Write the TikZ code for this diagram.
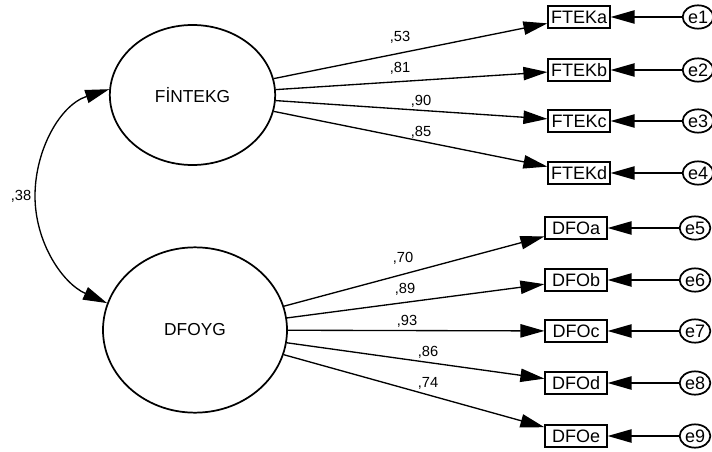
\documentclass[tikz,border=0pt]{standalone}
\usepackage{fontspec}
\setmainfont{Liberation Sans}
\usetikzlibrary{shapes.geometric,arrows.meta}

\begin{document}
\begin{tikzpicture}[x=0.75pt,y=0.75pt,yscale=-1,xscale=1,
  latent/.style={ellipse,draw,line width=1.3pt,inner sep=0pt,font=\fontsize{13}{15}\selectfont},
  obsbox/.style={rectangle,draw,line width=1.4pt,minimum width=46pt,minimum height=16.5pt,inner sep=1pt,font=\fontsize{13.5}{15}\selectfont},
  errnode/.style={ellipse,draw,line width=1.3pt,minimum width=23pt,minimum height=17.5pt,inner sep=0pt,font=\fontsize{13.5}{15}\selectfont},
  coef/.style={inner sep=0.75pt,font=\fontsize{11}{13}\selectfont},
  loadarrow/.style={line width=1pt,-{Triangle[length=18pt,width=10pt]}},
  corrarrow/.style={line width=1pt,{Triangle[length=18pt,width=10pt]}-{Triangle[length=18pt,width=10pt]}}]
\useasboundingbox (0,0) rectangle (712,452);

%Shape: Ellipse [latent factors]
\node [latent,minimum width=124pt,minimum height=105pt] (fin) at (192.5,95) {FİNTEKG};
\node [latent,minimum width=138pt,minimum height=124pt] (dfo) at (195,330) {DFOYG};

%Shape: Rectangle [observed items]
\node [obsbox] (ftekA) at (579,17) {FTEKa};
\node [obsbox] (ftekB) at (579,70) {FTEKb};
\node [obsbox] (ftekC) at (579,121) {FTEKc};
\node [obsbox] (ftekD) at (579,173) {FTEKd};
\node [obsbox] (dfoA) at (576,228) {DFOa};
\node [obsbox] (dfoB) at (576,280) {DFOb};
\node [obsbox] (dfoC) at (576,331) {DFOc};
\node [obsbox] (dfoD) at (576,383) {DFOd};
\node [obsbox] (dfoE) at (576,436) {DFOe};

%Shape: Ellipse [error terms]
\node [errnode] (e1) at (698,17) {e1};
\node [errnode] (e2) at (698,70) {e2};
\node [errnode] (e3) at (698,121) {e3};
\node [errnode] (e4) at (698,173) {e4};
\node [errnode] (e5) at (695,228) {e5};
\node [errnode] (e6) at (695,280) {e6};
\node [errnode] (e7) at (695,331) {e7};
\node [errnode] (e8) at (695,383) {e8};
\node [errnode] (e9) at (695,436) {e9};

%Straight Lines [loadings]
\draw [loadarrow] (fin) -- (ftekA);
\draw [loadarrow] (fin) -- (ftekB);
\draw [loadarrow] (fin) -- (ftekC);
\draw [loadarrow] (fin) -- (ftekD);
\draw [loadarrow] (dfo) -- (dfoA);
\draw [loadarrow] (dfo) -- (dfoB);
\draw [loadarrow] (dfo) -- (dfoC);
\draw [loadarrow] (dfo) -- (dfoD);
\draw [loadarrow] (dfo) -- (dfoE);

%Straight Lines [errors]
\draw [loadarrow] (e1) -- (ftekA);
\draw [loadarrow] (e2) -- (ftekB);
\draw [loadarrow] (e3) -- (ftekC);
\draw [loadarrow] (e4) -- (ftekD);
\draw [loadarrow] (e5) -- (dfoA);
\draw [loadarrow] (e6) -- (dfoB);
\draw [loadarrow] (e7) -- (dfoC);
\draw [loadarrow] (e8) -- (dfoD);
\draw [loadarrow] (e9) -- (dfoE);

%Curve Lines [correlation]
\draw [corrarrow] (fin.176) .. controls (60,105) and (35,150) .. (35,196) .. controls (35,242) and (62,283) .. (dfo.163);

% Text Node
\node [coef] (r53) at (400,37) {,53};
\node [coef] (r81) at (400,68) {,81};
\node [coef] (r90) at (421,101) {,90};
\node [coef] (r85) at (421,132) {,85};
\node [coef] (r70) at (403,258) {,70};
\node [coef] (r89) at (405,289) {,89};
\node [coef] (r93) at (407,321) {,93};
\node [coef] (r86) at (428,352) {,86};
\node [coef] (r74) at (428,383) {,74};
\node [coef] (r38) at (21,196) {,38};
\end{tikzpicture}
\end{document}
